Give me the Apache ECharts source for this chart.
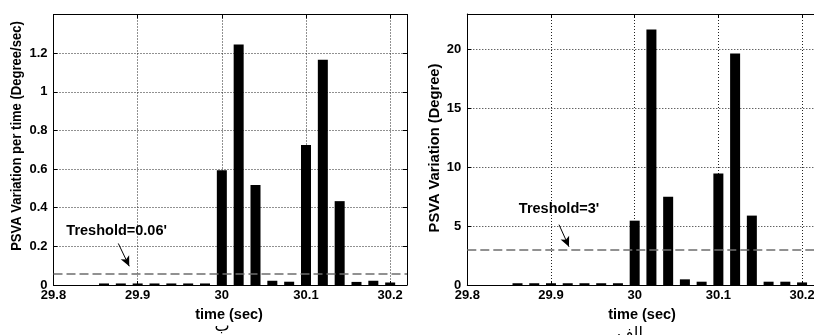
<!DOCTYPE html>
<html>
<head>
<meta charset="utf-8">
<script src="https://cdn.jsdelivr.net/npm/echarts@6/dist/echarts.min.js"></script>
<style>
  html, body { margin: 0; padding: 0; background: #ffffff; }
  #chart { width: 814px; height: 335px; }
</style>
</head>
<body>
<div id="chart"></div>
<script>
// Sample instants (sec)
const times = [29.86, 29.88, 29.90, 29.92, 29.94, 29.96, 29.98,
               30.00, 30.02, 30.04, 30.06, 30.08, 30.10, 30.12, 30.14, 30.16, 30.18, 30.20];
// PSVA variation per time (Degree/sec)
const rateValues = [0.008, 0.008, 0.008, 0.008, 0.008, 0.008, 0.008,
                    0.594, 1.245, 0.517, 0.022, 0.017, 0.725, 1.166, 0.434, 0.016, 0.022, 0.013];
// PSVA variation (Degree)
const angleValues = [0.15, 0.15, 0.15, 0.15, 0.15, 0.15, 0.15,
                     5.46, 21.68, 7.49, 0.48, 0.28, 9.46, 19.65, 5.89, 0.28, 0.28, 0.22];
// Detection thresholds
const rateThreshold = 0.06;
const angleThreshold = 3;
const rateThresholdText = "Treshold=0.06'";
const angleThresholdText = "Treshold=3'";
// Axis ranges
const timeRange = [29.8, 30.22, 0.1];
const rateRange = [0, 1.4, 0.2];
const angleRange = [0, 23, 5];
// Annotation anchors (data coordinates): text centre, arrow start, arrow tip
const rateNote = { text: [29.875, 0.279], from: [29.877, 0.215], to: [29.890, 0.097] };
const angleNote = { text: [29.9096, 6.42], from: [29.9096, 5.12], to: [29.9215, 3.25] };

const FONT = 'Liberation Sans, Arial, sans-serif';

function mainX(gridIndex) {
  return {
    type: 'value', gridIndex, position: 'bottom',
    min: timeRange[0], max: timeRange[1], interval: timeRange[2],
    axisLine: { show: true, onZero: false, lineStyle: { color: '#000', width: 1 } },
    axisTick: { show: true, inside: true, length: 4, lineStyle: { color: '#000' } },
    axisLabel: { show: true, showMaxLabel: false, margin: 4, color: '#000',
                 fontFamily: FONT, fontWeight: 'bold', fontSize: 13 },
    splitLine: { show: true, lineStyle: { color: '#222', type: [1, 2], width: 1 } }
  };
}
function boxX(gridIndex) {
  return {
    type: 'value', gridIndex, position: 'top',
    min: timeRange[0], max: timeRange[1], interval: timeRange[2],
    axisLine: { show: true, onZero: false, lineStyle: { color: '#000', width: 1 } },
    axisTick: { show: true, inside: true, length: 4, lineStyle: { color: '#000' } },
    axisLabel: { show: false }, splitLine: { show: false }
  };
}
function mainY(gridIndex, range) {
  return {
    type: 'value', gridIndex, position: 'left',
    min: range[0], max: range[1], interval: range[2],
    axisLine: { show: true, onZero: false, lineStyle: { color: '#000', width: 1 } },
    axisTick: { show: true, inside: true, length: 4, lineStyle: { color: '#000' } },
    axisLabel: { show: true, showMaxLabel: false, margin: 6, color: '#000',
                 fontFamily: FONT, fontWeight: 'bold', fontSize: 13 },
    splitLine: { show: true, lineStyle: { color: '#222', type: [1, 2], width: 1 } }
  };
}
function boxY(gridIndex, range) {
  return {
    type: 'value', gridIndex, position: 'right',
    min: range[0], max: range[1], interval: range[2],
    axisLine: { show: true, onZero: false, lineStyle: { color: '#000', width: 1 } },
    axisTick: { show: true, inside: true, length: 4, lineStyle: { color: '#000' } },
    axisLabel: { show: false }, splitLine: { show: false }
  };
}

function barSeries(idx, values, threshold, note, noteText) {
  return {
    type: 'bar',
    xAxisIndex: idx * 2, yAxisIndex: idx * 2,
    data: times.map((t, i) => [t, values[i]]),
    barWidth: 10,
    itemStyle: { color: '#000' },
    silent: true,
    animation: false,
    markLine: {
      silent: true, animation: false,
      symbol: 'none',
      label: { show: false },
      data: [
        { yAxis: threshold, lineStyle: { color: '#6e6e6e', type: [9, 4], width: 1.5 } },
        [
          { coord: note.from, symbol: 'none',
            lineStyle: { color: '#000', type: 'solid', width: 1 } },
          { coord: note.to, symbol: 'arrow', symbolSize: [7, 10] }
        ]
      ]
    },
    markPoint: {
      silent: true, animation: false,
      symbol: 'circle', symbolSize: 0,
      data: [{
        coord: note.text,
        label: { show: true, position: 'inside', formatter: noteText, color: '#000',
                 fontFamily: FONT, fontWeight: 'bold', fontSize: 14.5 }
      }]
    }
  };
}

const chart = echarts.init(document.getElementById('chart'), null, { renderer: 'canvas' });
chart.setOption({
  backgroundColor: '#ffffff',
  animation: false,
  grid: [
    { left: 53.5, top: 14.5, width: 353.5, height: 270.5, outerBoundsMode: 'none', containLabel: false },
    { left: 467.3, top: 14, width: 351.5, height: 271, outerBoundsMode: 'none', containLabel: false }
  ],
  xAxis: [mainX(0), boxX(0), mainX(1), boxX(1)],
  yAxis: [mainY(0, rateRange), boxY(0, rateRange), mainY(1, angleRange), boxY(1, angleRange)],
  series: [
    barSeries(0, rateValues, rateThreshold, rateNote, rateThresholdText),
    barSeries(1, angleValues, angleThreshold, angleNote, angleThresholdText)
  ],
  graphic: [
    { type: 'text', x: 17, y: 136, rotation: Math.PI / 2, scaleX: 0.87,
      style: { text: 'PSVA Variation per time (Degree/sec)', fill: '#000',
               font: 'bold 15px ' + FONT, align: 'center', verticalAlign: 'middle' } },
    { type: 'text', x: 435, y: 148, rotation: Math.PI / 2, scaleX: 0.98,
      style: { text: 'PSVA Variation (Degree)', fill: '#000',
               font: 'bold 15px ' + FONT, align: 'center', verticalAlign: 'middle' } },
    { type: 'text', x: 229, y: 315,
      style: { text: 'time (sec)', fill: '#000',
               font: 'bold 14.5px ' + FONT, align: 'center', verticalAlign: 'middle' } },
    { type: 'text', x: 642, y: 315,
      style: { text: 'time (sec)', fill: '#000',
               font: 'bold 14.5px ' + FONT, align: 'center', verticalAlign: 'middle' } },
    { type: 'text', x: 222, y: 327,
      style: { text: 'ب', fill: '#000',
               font: '16px DejaVu Sans, sans-serif', align: 'center', verticalAlign: 'middle' } },
    { type: 'text', x: 630, y: 334,
      style: { text: 'الف', fill: '#000',
               font: '16px DejaVu Sans, sans-serif', align: 'center', verticalAlign: 'middle' } }
  ]
});
</script>
</body>
</html>
